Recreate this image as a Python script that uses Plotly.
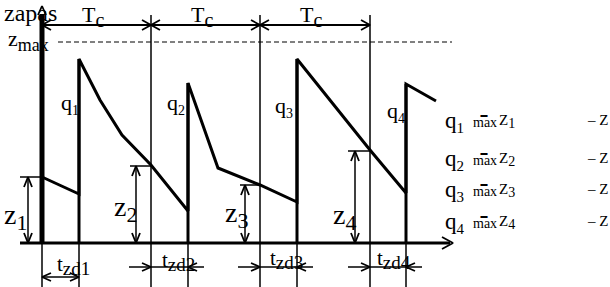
import plotly.graph_objects as go

# ---- data (time units / stock units; origin at the axes corner) ----
cycle_starts = [0, 109, 218, 328]          # beginnings of cycles T_c
delivery_times = [37, 146, 255, 364]       # moments of deliveries
peaks = [184, 160, 184, 159]               # stock right after delivery
z_levels = [66, 77, 58, 92]                # stock at cycle start (z_i)
saw_t = [0, 37, 37, 58, 80, 109, 146, 146, 176, 218, 255, 255, 328, 364, 364, 394]
saw_z = [66, 49, 184, 143, 108, 78, 32, 160, 75, 58, 41, 184, 93, 50, 159, 142]
z_max = 201
idx = ["1", "2", "3", "4"]

X0, Y0 = 42, 243   # pixel position of the origin (for text layout helpers)
def X(px): return px - X0
def Y(py): return Y0 - py

FONT = "Liberation Serif"
BLACK = "black"

def sub(s, size):
    return "<sub><span style='font-size:%dpx'>%s</span></sub>" % (size, s)

fig = go.Figure()

def seg_trace(xs, ys, width, dash=None):
    fig.add_trace(go.Scatter(x=xs, y=ys, mode="lines",
                             line=dict(color=BLACK, width=width, dash=dash),
                             hoverinfo="skip", showlegend=False))

heads_x, heads_y = [], []
def vhead(tx, ty, dx, dy, L=9, W=4):
    n = (dx * dx + dy * dy) ** 0.5
    ux, uy = dx / n, dy / n
    bx, by = tx - L * ux, ty - L * uy
    px_, py_ = -uy, ux
    heads_x.extend([bx + W * px_, tx, bx - W * px_, None])
    heads_y.extend([by + W * py_, ty, by - W * py_, None])

# thin verticals below the baseline
xs, ys = [], []
for t in cycle_starts + delivery_times:
    xs += [t, t, None]; ys += [0, Y(287), None]
seg_trace(xs, ys, 1.5)

# thin cycle boundaries above baseline
xs, ys = [], []
for t in cycle_starts[1:]:
    xs += [t, t, None]; ys += [0, Y(15), None]
seg_trace(xs, ys, 1.5)

# z_max dashed line
seg_trace([X(58), X(452)], [z_max, z_max], 1, dash="5px,3px")

# T_c dimension line
ytc = Y(25)
seg_trace([cycle_starts[0], cycle_starts[-1]], [ytc, ytc], 2)
vhead(cycle_starts[0], ytc, -1, 0, L=9, W=5)
for t in cycle_starts[1:-1]:
    vhead(t, ytc, 1, 0, L=9, W=5)
    vhead(t, ytc, -1, 0, L=9, W=5)
vhead(cycle_starts[-1], ytc, 1, 0, L=9, W=5)

# z_i dimension arrows and level ticks
z_arrow_t = [X(28), X(136), X(245), X(355)]
tick_from = [X(20), X(130), X(240), X(348)]
xs, ys = [], []
for i in range(4):
    xs += [z_arrow_t[i], z_arrow_t[i], None]; ys += [0, z_levels[i], None]
    xs += [tick_from[i], cycle_starts[i], None]; ys += [z_levels[i], z_levels[i], None]
    vhead(z_arrow_t[i], z_levels[i], 0, 1, L=10, W=4)
    vhead(z_arrow_t[i], 0, 0, -1, L=10, W=4)
seg_trace(xs, ys, 1.5)

# t_zd dimension arrows
xs, ys = [], []
yz1 = Y(277)
xs += [cycle_starts[0], delivery_times[0], None]; ys += [yz1, yz1, None]
vhead(cycle_starts[0], yz1, -1, 0, L=9, W=4)
vhead(delivery_times[0], yz1, 1, 0, L=9, W=4)
yzd = Y(267)
for i in range(1, 4):
    a, b = cycle_starts[i], delivery_times[i]
    xs += [a - 22, b + 16, None]; ys += [yzd, yzd, None]
    vhead(a, yzd, 1, 0, L=9, W=4)
    vhead(b, yzd, -1, 0, L=9, W=4)
seg_trace(xs, ys, 1.5)

# baseline (time axis)
seg_trace([X(20), X(450)], [0, 0], 3)
vhead(X(453), 0, 1, 0, L=11, W=6)

# stock axis (thick)
seg_trace([0, 0], [0, Y(14)], 5)
vhead(0, Y(6), 0, 1, L=9, W=4)

# deliveries (vertical jumps from baseline)
xs, ys = [], []
for t, p in zip(delivery_times, peaks):
    xs += [t, t, None]; ys += [0, p, None]
seg_trace(xs, ys, 3)

# stock level (sawtooth)
seg_trace(saw_t, saw_z, 3)

# arrowheads
fig.add_trace(go.Scatter(x=heads_x, y=heads_y, mode="lines",
                         line=dict(color=BLACK, width=1.8),
                         hoverinfo="skip", showlegend=False))

ann = []
def txt(x, y, s, size, xanchor="center"):
    ann.append(dict(x=x, y=y, xref="x", yref="y", text=s, showarrow=False,
                    font=dict(family=FONT, size=size, color=BLACK),
                    xanchor=xanchor, yanchor="middle"))

txt(X(2), Y(13), "zapas", 24, xanchor="left")
txt(X(6), Y(40), "z" + sub("max", 18), 22, xanchor="left")
for i in range(3):
    mid = (cycle_starts[i] + cycle_starts[i + 1]) / 2
    txt(mid - 4, Y(16), "T" + sub("c", 20), 22)
q_pos = [(70, 104), (176, 104), (284, 107), (396, 112)]
for (px, py), k in zip(q_pos, idx):
    txt(X(px), Y(py), "q" + sub(k, 14), 22)
z_pos = [(15, 217), (125, 209), (236, 215), (344, 217)]
for (px, py), k in zip(z_pos, idx):
    txt(X(px), Y(py), "z" + sub(k, 22), 28)
tzd_pos = [(73, 265), (178, 261), (286, 259), (394, 259)]
for (px, py), k in zip(tzd_pos, idx):
    txt(X(px), Y(py), "t" + sub("zd" + k, 19), 21)

rows = [119, 157, 188, 220]
for r, k in zip(rows, idx):
    txt(X(443), Y(r + 3), "q" + sub(k, 15), 23, xanchor="left")
    txt(X(471), Y(r + 3), "m\u033fax", 14, xanchor="left")
    txt(X(497), Y(r + 2), "Z" + sub(k, 14), 15, xanchor="left")
    txt(X(585), Y(r + 1), "– Z", 15, xanchor="left")

fig.update_layout(
    width=610, height=287,
    margin=dict(l=0, r=0, t=0, b=0),
    paper_bgcolor="white", plot_bgcolor="white",
    xaxis=dict(range=[X(0), X(610)], visible=False, fixedrange=True),
    yaxis=dict(range=[Y(287), Y(0)], visible=False, fixedrange=True),
    annotations=ann,
)
fig.write_html("out.html")
